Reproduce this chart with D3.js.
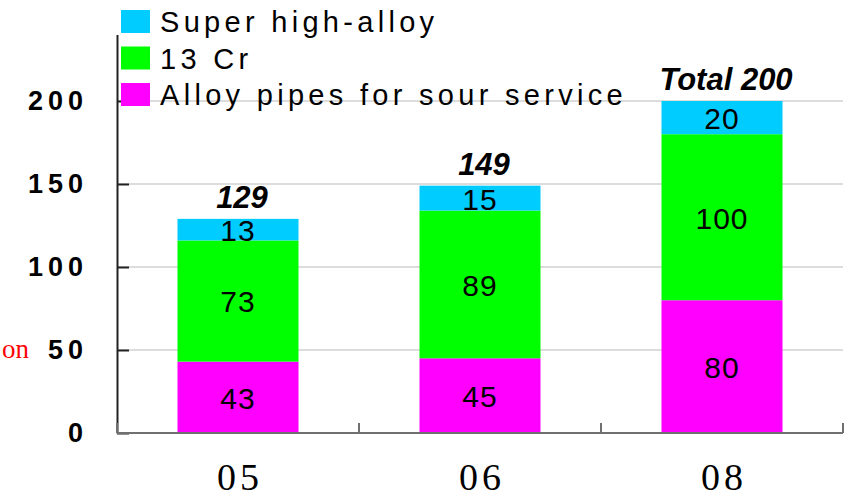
<!DOCTYPE html>
<html>
<head>
<meta charset="utf-8">
<script src="https://cdn.jsdelivr.net/npm/d3@7"></script>
<style>
  body { margin: 0; background: #fff; }
  svg { display: block; }
</style>
</head>
<body>
<div id="chart"></div>
<script>
// chart data
const years = ["05", "06", "08"];
const sourService = [43, 45, 80];
const cr13 = [73, 89, 100];
const superHigh = [13, 15, 20];
const totalLabels = ["129", "149", "Total 200"];
const yTicks = [0, 50, 100, 150, 200];
const seriesNames = ["Super high-alloy", "13 Cr", "Alloy pipes for sour service"];
const seriesColors = ["#00ccff", "#00ff00", "#ff00ff"];

const W = 848, H = 499;
const margin = { left: 117, right: 5, top: 34, bottom: 66 };

const svg = d3.select("#chart").append("svg")
  .attr("width", W).attr("height", H);

// scales
const x = d3.scaleBand().domain(years).range([margin.left, W - margin.right]).padding(0);
const y = d3.scaleLinear().domain([0, 240]).range([H - margin.bottom, H - margin.bottom - 240 * 1.66]);

// gridlines
svg.append("g")
  .selectAll("line")
  .data(yTicks.filter(d => d > 0))
  .join("line")
  .attr("x1", margin.left).attr("x2", W - margin.right)
  .attr("y1", d => y(d)).attr("y2", d => y(d))
  .attr("stroke", "#d0d0d0").attr("stroke-width", 1.5);

// stacked bars
const rows = years.map((yr, i) => ({ year: yr, sour: sourService[i], cr: cr13[i], sup: superHigh[i] }));
const keys = ["sour", "cr", "sup"];
const keyColors = { sour: seriesColors[2], cr: seriesColors[1], sup: seriesColors[0] };
const stacked = d3.stack().keys(keys)(rows);
const bw = x.bandwidth() / 2;

const layers = svg.append("g")
  .selectAll("g")
  .data(stacked)
  .join("g")
  .attr("fill", d => keyColors[d.key]);

layers.selectAll("rect")
  .data(d => d)
  .join("rect")
  .attr("x", d => x(d.data.year) + bw / 2)
  .attr("width", bw)
  .attr("y", d => y(d[1]))
  .attr("height", d => y(d[0]) - y(d[1]));

// values inside segments
layers.selectAll("text")
  .data(d => d)
  .join("text")
  .attr("x", d => x(d.data.year) + x.bandwidth() / 2)
  .attr("y", d => (y(d[0]) + y(d[1])) / 2)
  .attr("dy", "0.38em")
  .attr("text-anchor", "middle")
  .attr("font-family", "Liberation Sans, Arial, sans-serif")
  .attr("font-size", 30)
  .attr("letter-spacing", 1)
  .attr("fill", "#000")
  .text(d => d[1] - d[0]);

// totals above bars
svg.append("g")
  .selectAll("text")
  .data(rows)
  .join("text")
  .attr("x", d => x(d.year) + x.bandwidth() / 2 + 4)
  .attr("y", d => y(d.sour + d.cr + d.sup) - 11)
  .attr("text-anchor", "middle")
  .attr("font-family", "Liberation Sans, Arial, sans-serif")
  .attr("font-style", "italic")
  .attr("font-weight", "bold")
  .attr("font-size", 31)
  .text((d, i) => totalLabels[i]);

// y axis
const yAxis = svg.append("g")
  .attr("transform", `translate(${margin.left},0)`)
  .call(d3.axisLeft(y).tickValues(yTicks).tickSize(-12).tickSizeOuter(0).tickPadding(29));
yAxis.select(".domain").attr("stroke", "#222").attr("stroke-width", 2);
yAxis.selectAll(".tick line").attr("stroke", "#222").attr("stroke-width", 2);
yAxis.selectAll(".tick text")
  .attr("font-family", "Liberation Sans, Arial, sans-serif")
  .attr("font-weight", "bold")
  .attr("font-size", 27)
  .attr("letter-spacing", 5)
  .attr("fill", "#000");

// x axis baseline with ticks at category boundaries
const xAxisG = svg.append("g").attr("transform", `translate(0,${y(0)})`);
xAxisG.append("line")
  .attr("x1", margin.left).attr("x2", W - margin.right)
  .attr("stroke", "#707070").attr("stroke-width", 2);
const bounds = years.map(d => x(d)).concat([x.range()[1]]);
xAxisG.selectAll(".bnd")
  .data(bounds)
  .join("line")
  .attr("class", "bnd")
  .attr("x1", d => d).attr("x2", d => d)
  .attr("y1", 0).attr("y2", -10)
  .attr("stroke", "#707070").attr("stroke-width", 2);
xAxisG.selectAll("text")
  .data(years)
  .join("text")
  .attr("x", d => x(d) + x.bandwidth() / 2 + 2)
  .attr("y", 57)
  .attr("text-anchor", "middle")
  .attr("font-family", "Liberation Serif, Times New Roman, serif")
  .attr("font-size", 38)
  .attr("letter-spacing", 4)
  .attr("fill", "#000")
  .text(d => d);

// unit label fragment (only its tail is visible in the original)
svg.append("text")
  .attr("x", 29).attr("y", 358)
  .attr("text-anchor", "end")
  .attr("font-family", "Liberation Serif, Times New Roman, serif")
  .attr("font-size", 27)
  .attr("fill", "#ff0000")
  .text("on");

// legend
const legend = svg.append("g")
  .selectAll("g")
  .data(seriesNames)
  .join("g")
  .attr("transform", (d, i) => `translate(121,${10 + i * 36.5})`);
legend.append("rect")
  .attr("width", 29).attr("height", 23)
  .attr("fill", (d, i) => seriesColors[i]);
legend.append("text")
  .attr("x", 39).attr("y", 22)
  .attr("font-family", "Liberation Sans, Arial, sans-serif")
  .attr("font-size", 29)
  .attr("letter-spacing", 4.3)
  .attr("fill", "#000")
  .text(d => d);
</script>
</body>
</html>
